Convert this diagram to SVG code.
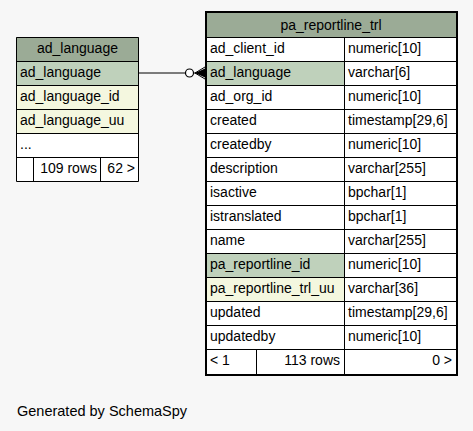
<svg xmlns="http://www.w3.org/2000/svg" width="473" height="431" viewBox="0 0 473 431">
<style>
text{font-family:"Liberation Sans",Arial,sans-serif;font-size:14px;fill:#000}
.hd{fill:#9bab96}
.pk{fill:#bfd1bb}
.ix{fill:#f4f7df}
.wh{fill:#fff}
.ln{stroke:#000;stroke-width:1;fill:none}
.mid{text-anchor:middle}
.end{text-anchor:end}
</style>
<rect width="473" height="431" fill="#f7f7f7"/>
<g id="connectors">
<line class="ln" x1="139" y1="73" x2="185.5" y2="73"/>
<circle cx="189.5" cy="73" r="4" fill="#fff" stroke="#000" stroke-width="1.2"/>
<line class="ln" x1="193.5" y1="73" x2="205" y2="73"/>
<polygon points="195,73 205,68.5 205,77.5" fill="#000"/>
<line class="ln" x1="195" y1="73" x2="205" y2="67"/>
<line class="ln" x1="195" y1="73" x2="205" y2="79"/>
</g>
<g id="ad_language">
<rect class="hd" x="16" y="37" width="123" height="24"/>
<rect class="pk" x="16" y="61" width="123" height="24"/>
<rect class="ix" x="16" y="85" width="123" height="24"/>
<rect class="ix" x="16" y="109" width="123" height="24"/>
<rect class="wh" x="16" y="133" width="123" height="24"/>
<rect class="wh" x="16" y="157" width="123" height="24"/>
<path class="ln" d="M16.5,37.5H138.5V181.5H16.5Z M16.5,61.5H138.5 M16.5,85.5H138.5 M16.5,109.5H138.5 M16.5,133.5H138.5 M16.5,157.5H138.5 M33.5,157.5V181.5 M100.5,157.5V181.5"/>
<text class="mid" x="77.5" y="53">ad_language</text>
<text x="20" y="77">ad_language</text>
<text x="20" y="101">ad_language_id</text>
<text x="20" y="125">ad_language_uu</text>
<text x="20" y="149">...</text>
<text class="end" x="97" y="173">109 rows</text>
<text class="end" x="135" y="173">62 &gt;</text>
</g>
<g id="pa_reportline_trl">
<rect class="hd" x="206" y="12" width="251" height="25"/>
<rect class="wh" x="206" y="37" width="251" height="337"/>
<rect class="pk" x="206" y="61" width="138" height="24"/>
<rect class="pk" x="206" y="253" width="138" height="24"/>
<rect class="ix" x="206" y="277" width="138" height="24"/>
<path class="ln" d="M206,37.5H457 M206,61.5H457 M206,85.5H457 M206,109.5H457 M206,133.5H457 M206,157.5H457 M206,181.5H457 M206,205.5H457 M206,229.5H457 M206,253.5H457 M206,277.5H457 M206,301.5H457 M206,325.5H457 M206,349.5H457 M344.5,37V374 M256.5,349V374"/>
<rect x="206" y="12" width="251" height="363" fill="none" stroke="#000" stroke-width="2"/>
<text class="mid" x="331" y="30">pa_reportline_trl</text>
<text x="210" y="53">ad_client_id</text><text x="348" y="53">numeric[10]</text>
<text x="210" y="77">ad_language</text><text x="348" y="77">varchar[6]</text>
<text x="210" y="101">ad_org_id</text><text x="348" y="101">numeric[10]</text>
<text x="210" y="125">created</text><text x="348" y="125">timestamp[29,6]</text>
<text x="210" y="149">createdby</text><text x="348" y="149">numeric[10]</text>
<text x="210" y="173">description</text><text x="348" y="173">varchar[255]</text>
<text x="210" y="197">isactive</text><text x="348" y="197">bpchar[1]</text>
<text x="210" y="221">istranslated</text><text x="348" y="221">bpchar[1]</text>
<text x="210" y="245">name</text><text x="348" y="245">varchar[255]</text>
<text x="210" y="269">pa_reportline_id</text><text x="348" y="269">numeric[10]</text>
<text x="210" y="293">pa_reportline_trl_uu</text><text x="348" y="293">varchar[36]</text>
<text x="210" y="317">updated</text><text x="348" y="317">timestamp[29,6]</text>
<text x="210" y="341">updatedby</text><text x="348" y="341">numeric[10]</text>
<text x="210" y="365">&lt; 1</text>
<text class="end" x="340" y="365">113 rows</text>
<text class="end" x="452" y="365">0 &gt;</text>
</g>
<text x="17" y="416" style="font-size:14.5px">Generated by SchemaSpy</text>
</svg>
